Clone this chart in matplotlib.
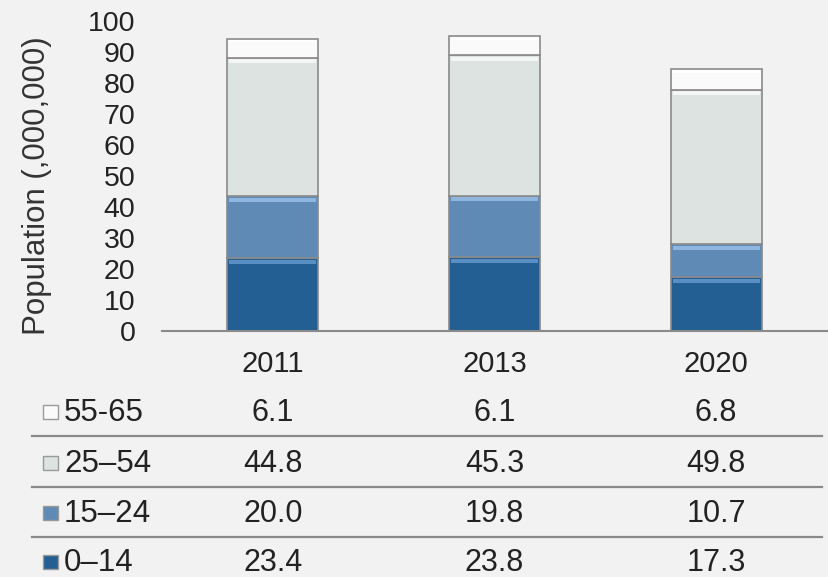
import matplotlib
matplotlib.use("Agg")
import matplotlib.pyplot as plt
import matplotlib.transforms as mtransforms
from matplotlib.patches import Rectangle
import numpy as np

plt.rcParams['font.family'] = ['Liberation Sans', 'DejaVu Sans']

years = ["2011", "2013", "2020"]
groups = ["0–14", "15–24", "25–54", "55-65"]
age_0_14 = [23.4, 23.8, 17.3]
age_15_24 = [20.0, 19.8, 10.7]
age_25_54 = [44.8, 45.3, 49.8]
age_55_65 = [6.1, 6.1, 6.8]
yticks = list(range(0, 101, 10))

series = [age_0_14, age_15_24, age_25_54, age_55_65]
colors = ["#235f93", "#5f8ab5", "#dde3e0", "#fafafa"]
highlights = ["#5a8fc4", "#8fb6df", "#f4f6f5", "#ffffff"]
bg = "#f2f2f2"
txt = "#222222"

W, H = 829, 577
fig = plt.figure(figsize=(W / 100, H / 100), dpi=100, facecolor=bg)
ax = fig.add_axes([162 / W, 1 - 331 / H, 665 / W, 310 / H])
ax.set_facecolor(bg)

x = np.arange(len(years))
width = 0.41
bottom = np.zeros(len(years))
for vals, col, hl in zip(series, colors, highlights):
    vals = np.array(vals)
    ax.bar(x, vals, width, bottom=bottom, color=col, edgecolor="#8a8a8a",
           linewidth=1.2, zorder=2)
    # bevel: light band along the top of each segment
    band = np.minimum(vals * 0.12, 1.3)
    ax.bar(x, band, width * 0.96, bottom=bottom + vals - band - 0.5,
           color=hl, linewidth=0, zorder=3)
    bottom += vals

ax.set_xlim(-0.5, 2.5)
ax.set_ylim(0, 100)
ax.set_yticks(yticks)
ax.set_yticklabels([str(t) for t in yticks], fontsize=20.5, color=txt)
ax.set_xticks(x)
ax.set_xticklabels(years, fontsize=21, color=txt)
ax.tick_params(axis="y", length=0, pad=19)
ax.tick_params(axis="x", length=0, pad=14)
for s in ["top", "right", "left"]:
    ax.spines[s].set_visible(False)
ax.spines["bottom"].set_color("#8a8a8a")
ax.spines["bottom"].set_linewidth(1.5)
fig.text(37 / W, 1 - 186 / H, "Population (,000,000)", fontsize=22.5,
         color="#333333", rotation=90, ha="center", va="center")

# data table below the chart
trans = mtransforms.blended_transform_factory(ax.transData, fig.transFigure)
row_y = [413, 464, 514, 563]
line_y = [436, 487, 537]
table_rows = list(zip(groups, series, colors))[::-1]
for (label, vals, col), yp in zip(table_rows, row_y):
    yf = 1 - yp / H
    fig.patches.append(Rectangle((43 / W, yf - 6 / H), 15 / W, 14 / H,
                                 transform=fig.transFigure, facecolor=col,
                                 edgecolor="#9a9a9a", linewidth=1.0))
    fig.text(64 / W, yf, label, fontsize=22.5, color=txt,
             ha="left", va="center")
    for xi, v in zip(x, vals):
        ax.text(xi, yf, f"{v:.1f}", transform=trans, fontsize=22,
                color=txt, ha="center", va="center")
for yp in line_y:
    yf = 1 - yp / H
    fig.add_artist(plt.Line2D([32 / W, 822 / W], [yf, yf],
                              transform=fig.transFigure, color="#8a8a8a",
                              linewidth=1.6))

fig.savefig("out.png", dpi=100, facecolor=bg)
